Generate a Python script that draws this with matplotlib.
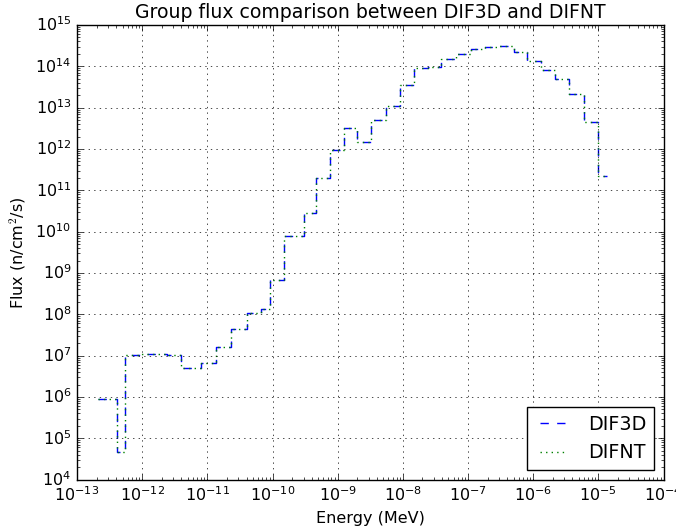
import matplotlib
matplotlib.use("Agg")
import matplotlib.pyplot as plt
import numpy as np

# Group energy boundaries (MeV)
edges = [2.1e-13, 4.1e-13, 5.4e-13, 8.9e-13, 1.48e-12, 2.44e-12, 4.0e-12,
         8.1e-12, 1.35e-11, 2.27e-11, 4.0e-11, 6.6e-11, 9.1e-11, 1.5e-10,
         3.05e-10, 4.6e-10, 7.6e-10, 1.24e-9, 2.0e-9, 3.3e-9, 5.5e-9, 8.9e-9,
         1.48e-8, 2.4e-8, 3.9e-8, 6.5e-8, 1.1e-7, 1.8e-7, 3.0e-7, 5.0e-7,
         8.0e-7, 1.33e-6, 2.14e-6, 3.55e-6, 6.0e-6, 9.9e-6, 1.38e-5]

# Group flux (n/cm^2/s)
dif3d = [9.0e5, 4.7e4, 1.05e7, 1.08e7, 1.08e7, 1.06e7, 5.1e6, 6.8e6, 1.6e7,
         4.5e7, 1.1e8, 1.35e8, 6.6e8, 8.0e9, 2.9e10, 1.95e11, 9.6e11, 3.2e12,
         1.45e12, 5.1e12, 1.07e13, 3.5e13, 9.0e13, 9.5e13, 1.5e14, 2.0e14,
         2.7e14, 2.9e14, 3.05e14, 2.25e14, 1.36e14, 8.3e13, 5.0e13, 2.2e13,
         4.4e12, 2.2e11]

difnt = [9.0e5, 4.7e4, 1.05e7, 1.08e7, 1.08e7, 1.06e7, 5.1e6, 6.8e6, 1.6e7,
         4.5e7, 1.1e8, 1.35e8, 6.6e8, 8.0e9, 2.9e10, 1.95e11, 9.6e11, 3.2e12,
         1.45e12, 5.1e12, 1.07e13, 3.5e13, 9.0e13, 9.5e13, 1.5e14, 2.0e14,
         2.7e14, 2.9e14, 3.05e14, 2.25e14, 1.36e14, 8.3e13, 5.0e13, 2.2e13,
         4.4e12, 2.2e11]

plt.style.use('classic')
plt.rcParams['figure.facecolor'] = 'white'
plt.rcParams['savefig.facecolor'] = 'white'
plt.rcParams['font.size'] = 11.5

fig = plt.figure(figsize=(6.76, 5.29), dpi=100)
ax = fig.add_axes([77/676, 1-479.6/529, (663.5-77)/676, (479.6-25)/529])

ax.step(edges, dif3d + [dif3d[-1]], where='post', color='b', linestyle='--', label='DIF3D')
ax.step(edges, difnt + [difnt[-1]], where='post', color='g', linestyle=':', label='DIFNT')

ax.set_xscale('log')
ax.set_yscale('log')
ax.set_xlim(1e-13, 1e-4)
ax.set_ylim(1e4, 1e15)
ax.grid(True)
ax.tick_params(labelsize=11.5)
ax.set_title('Group flux comparison between DIF3D and DIFNT', fontsize=13.6)
ax.set_xlabel('Energy (MeV)', fontsize=11.5)
ax.set_ylabel('Flux (n/cm$^2$/s)', fontsize=11.5)
ax.legend(loc='lower right', fontsize=13.8)

fig.savefig('out.png', dpi=100)
